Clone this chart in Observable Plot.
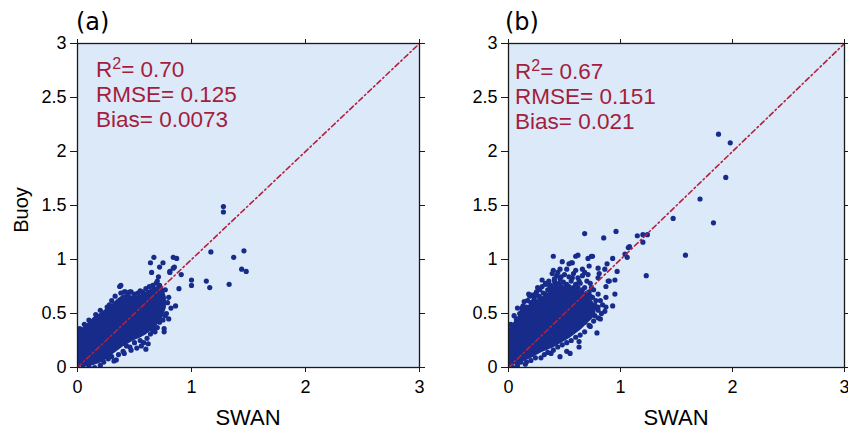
<!DOCTYPE html>
<html><head><meta charset="utf-8">
<script src="https://cdn.jsdelivr.net/npm/d3@7"></script>
<script src="https://cdn.jsdelivr.net/npm/@observablehq/plot@0.6"></script>
<style>
body{margin:0;background:#fff;}
#wrap{position:relative;width:848px;height:430px;overflow:hidden;font-family:"Liberation Sans",Arial,sans-serif;}
.panel{position:absolute;top:0;}
.lab{position:absolute;white-space:nowrap;line-height:1;color:#000;}
.stats{position:absolute;color:#a31d3d;font-size:22.5px;line-height:25px;white-space:nowrap;}
.stats .sup{font-size:16px;vertical-align:8px;line-height:0;}
</style></head><body><div id="wrap"></div>
<script>
// ---- data ----
const xTicks = [0, 1, 2, 3];
const xTickLabels = ["0", "1", "2", "3"];
const yTicks = [0, 0.5, 1, 1.5, 2, 2.5, 3];
const yTickLabels = ["0", "0.5", "1", "1.5", "2", "2.5", "3"];
const panelTags = ["(a)", "(b)"];
const statsA = ["0.70", "0.125", "0.0073"];
const statsB = ["0.67", "0.151", "0.021"];
const diag = [0, 3];

// Panel (a): envelope of the dense core of the scatter cloud
const envA_x  = [0,0.05,0.10,0.15,0.20,0.25,0.30,0.35,0.40,0.45,0.50,0.55,0.60,0.65,0.70,0.75,0.78];
const envA_lo = [0.00,0.01,0.01,0.02,0.04,0.07,0.11,0.15,0.19,0.22,0.25,0.27,0.30,0.34,0.39,0.46,0.55];
const envA_hi = [0.33,0.37,0.42,0.47,0.50,0.54,0.58,0.63,0.67,0.67,0.66,0.67,0.70,0.73,0.75,0.74,0.65];
// Panel (a): individual points (SWAN vs Buoy)
const swanA = [1.28,1.28,1.17,1.46,1.37,1.44,1.48,1.00,1.00,1.13,
 1.16,1.33,0.91,0.89,0.86,0.67,0.64,0.75,0.84,0.87,
 0.85,0.72,0.65,0.71,0.81,0.76,0.68,0.60,0.34,0.47,
 0.37,0.60,0.38,0.42,0.46,0.66,0.76,0.58,0.46,0.02,
 0.06,0.10,0.12,0.16,0.20,0.22,0.26,0.28,0.30,0.33,
 0.35,0.38,0.41,0.44,0.47,0.50,0.53,0.57,0.62,0.66,
 0.69,0.72,0.74,0.77,0.80,0.79,0.82,0.78,0.80,0.05,
 0.10,0.15,0.20,0.23,0.27,0.30,0.32,0.36,0.40,0.43,
 0.50,0.52,0.55,0.61,0.64,0.67,0.70,0.72,0.75,0.77,
 0.56,0.62,0.41,0.81,0.84,0.70,0.63,0.55,0.25,0.08];
const buoyA = [1.49,1.44,1.07,1.08,1.02,0.91,0.89,0.81,0.76,0.80,
 0.74,0.77,0.86,0.73,0.57,1.02,0.97,0.97,1.02,1.01,
 0.93,0.93,0.88,0.84,0.89,0.33,0.33,0.17,0.07,0.16,
 0.75,0.73,0.76,0.70,0.70,0.34,0.36,0.23,0.19,0.36,
 0.40,0.44,0.39,0.49,0.53,0.48,0.56,0.58,0.62,0.66,
 0.59,0.69,0.70,0.69,0.70,0.68,0.69,0.70,0.68,0.76,
 0.78,0.76,0.70,0.72,0.65,0.60,0.55,0.50,0.45,0.00,
 0.01,0.00,0.02,0.05,0.08,0.10,0.06,0.12,0.15,0.20,
 0.23,0.18,0.25,0.27,0.31,0.36,0.37,0.42,0.44,0.48,
 0.20,0.22,0.13,0.88,0.92,0.80,0.75,0.71,0.49,0.05];

// Panel (b)
const envB_x  = [0,0.05,0.10,0.15,0.20,0.25,0.30,0.35,0.40,0.45,0.50,0.55,0.60,0.65,0.70,0.75,0.78];
const envB_lo = [0.00,0.02,0.04,0.06,0.08,0.11,0.14,0.16,0.18,0.21,0.24,0.27,0.31,0.35,0.40,0.45,0.50];
const envB_hi = [0.35,0.42,0.49,0.55,0.59,0.62,0.65,0.68,0.71,0.73,0.74,0.74,0.73,0.71,0.68,0.62,0.56];
const swanB = [1.875,1.98,1.94,1.71,1.47,1.83,1.58,1.23,1.24,1.20,
 1.20,1.15,1.07,1.04,1.06,0.96,0.85,0.68,0.40,0.95,
 0.79,0.52,0.97,0.93,0.88,0.93,1.08,0.71,0.74,0.60,
 0.56,0.46,0.40,0.52,0.66,0.71,0.80,0.86,0.89,0.80,
 0.87,0.95,0.87,0.80,0.87,0.77,0.41,0.37,0.23,0.14,
 0.12,0.06,0.20,0.38,0.63,0.63,0.68,0.73,0.55,0.46,
 0.29,0.11,0.02,0.05,0.08,0.18,0.21,0.25,0.28,0.30,
 0.33,0.36,0.43,0.47,0.50,0.54,0.58,0.62,0.66,0.70,
 0.73,0.76,0.80,0.82,0.79,0.83,0.04,0.08,0.16,0.24,
 0.32,0.40,0.44,0.48,0.56,0.60,0.64,0.72,0.76,0.80,
 0.39,0.57,0.62,0.75,0.81,0.90,0.33,0.72,0.10,0.13,
 0.17,0.20,0.23,0.27,0.31,0.35,0.38,0.42,0.45,0.49,
 0.52,0.56,0.60,0.64,0.68,0.72,0.75,0.78,0.84,0.86,
 0.82,0.68,0.15,0.35,0.52,0.30,0.44,0.60,0.68,0.54,
 0.26,0.48,0.03,0.07,0.12,0.16,0.22,0.28,0.33,0.37,
 0.40,0.43,0.47,0.51,0.54,0.58,0.62,0.66,0.70,0.73,
 0.77,0.80,0.19,0.24,0.36,0.41,0.46,0.57,0.63,0.74];
const buoyB = [2.16,2.08,1.76,1.56,1.38,1.34,1.04,0.85,1.23,1.23,
 1.16,1.22,1.11,1.05,1.02,1.26,1.20,1.24,1.03,0.68,
 0.32,0.15,0.89,1.01,0.96,0.57,1.12,1.01,1.03,1.03,
 0.97,0.91,0.90,0.91,0.91,0.86,0.92,0.91,0.80,0.83,
 0.75,0.81,0.65,0.56,0.56,0.48,0.80,0.75,0.66,0.61,
 0.55,0.36,0.065,0.13,0.19,0.24,0.33,0.38,0.13,0.10,
 0.09,0.05,0.40,0.48,0.55,0.68,0.67,0.70,0.72,0.75,
 0.78,0.80,0.85,0.84,0.86,0.84,0.87,0.83,0.85,0.80,
 0.78,0.72,0.68,0.62,0.55,0.50,0.00,0.02,0.05,0.09,
 0.12,0.16,0.19,0.21,0.25,0.28,0.30,0.39,0.43,0.46,
 0.87,0.97,1.04,1.03,0.87,0.80,0.77,0.94,0.50,0.57,
 0.62,0.60,0.63,0.66,0.69,0.72,0.76,0.77,0.78,0.79,
 0.77,0.80,0.77,0.78,0.74,0.70,0.65,0.62,0.58,0.52,
 0.45,0.42,0.03,0.14,0.23,0.81,0.88,0.90,0.88,0.96,
 0.74,0.98,0.38,0.45,0.52,0.56,0.61,0.65,0.68,0.71,
 0.73,0.74,0.75,0.75,0.75,0.74,0.74,0.72,0.69,0.66,
 0.58,0.53,0.66,0.68,0.77,0.82,0.82,0.83,0.80,0.74];

// ---- styling ----
const BG = "#dce9f8";
const DOT = "#172b8b";
const LINE = "#b3203f";
const AXIS = "#1a1a1a";

function makePanel(sx, by, ex, elo, ehi, ml, mr) {
  const pts = sx.map((x, i) => ({x, y: by[i]}));
  const env = ex.map((x, i) => ({x, lo: elo[i], hi: ehi[i]}));
  const fx = d => xTickLabels[xTicks.indexOf(d)];
  const fy = d => yTickLabels[yTicks.indexOf(d)];
  return Plot.plot({
    width: 424, height: 430,
    marginLeft: ml, marginRight: mr, marginTop: 43, marginBottom: 63,
    x: {domain: [0, 3]},
    y: {domain: [0, 3]},
    style: {fontFamily: "Liberation Sans, Arial, sans-serif", fontSize: "18px", color: "#000", background: "transparent", overflow: "visible"},
    marks: [
      Plot.frame({fill: BG, stroke: "none"}),
      Plot.areaY(env, {x: "x", y1: "lo", y2: "hi", fill: DOT, clip: true}),
      Plot.dot(pts, {x: "x", y: "y", r: 2.6, fill: DOT, clip: true}),
      Plot.line(diag, {x: d => d, y: d => d, stroke: LINE, strokeWidth: 1.6, strokeDasharray: "5,3,1.5,3"}),
      Plot.frame({stroke: AXIS, strokeWidth: 1.3}),
      Plot.axisX(xTicks, {anchor: "bottom", tickSize: 5, tickPadding: 8, tickFormat: fx, label: null, stroke: AXIS}),
      Plot.axisX(xTicks, {anchor: "top", tickSize: 5, tickFormat: () => "", label: null, stroke: AXIS}),
      Plot.axisY(yTicks, {anchor: "left", tickSize: 7, tickPadding: 4, tickFormat: fy, label: null, stroke: AXIS}),
      Plot.axisY(yTicks, {anchor: "right", tickSize: 5, tickFormat: () => "", label: null, stroke: AXIS})
    ]
  });
}

const wrap = document.getElementById("wrap");
function place(el, left) {
  el.classList.add("panel");
  el.style.left = left + "px";
  wrap.appendChild(el);
}
place(makePanel(swanA, buoyA, envA_x, envA_lo, envA_hi, 77, 5), 0);
place(makePanel(swanB, buoyB, envB_x, envB_lo, envB_hi, 84, 4), 424);

function label(text, css) {
  const d = document.createElement("div");
  d.className = "lab";
  d.textContent = text;
  Object.assign(d.style, css);
  wrap.appendChild(d);
  return d;
}
label(panelTags[0], {left: "76px", top: "10px", fontSize: "24px", fontFamily: "DejaVu Sans, sans-serif"});
label(panelTags[1], {left: "505px", top: "10px", fontSize: "24px", fontFamily: "DejaVu Sans, sans-serif"});
label("SWAN", {left: "248px", top: "407px", fontSize: "22px", transform: "translateX(-50%)"});
label("SWAN", {left: "676px", top: "407px", fontSize: "22px", transform: "translateX(-50%)"});
label("Buoy", {left: "21px", top: "210px", fontSize: "20px", transform: "translate(-50%,-50%) rotate(-90deg)"});

function stats(vals, left, top) {
  const d = document.createElement("div");
  d.className = "stats";
  d.style.left = left + "px";
  d.style.top = top + "px";
  const l1 = document.createElement("div");
  l1.append("R");
  const s = document.createElement("span"); s.className = "sup"; s.textContent = "2";
  l1.append(s, "= " + vals[0]);
  const l2 = document.createElement("div"); l2.textContent = "RMSE= " + vals[1];
  const l3 = document.createElement("div"); l3.textContent = "Bias= " + vals[2];
  d.append(l1, l2, l3);
  wrap.appendChild(d);
}
stats(statsA, 96, 57);
stats(statsB, 515, 59);
</script></body></html>
